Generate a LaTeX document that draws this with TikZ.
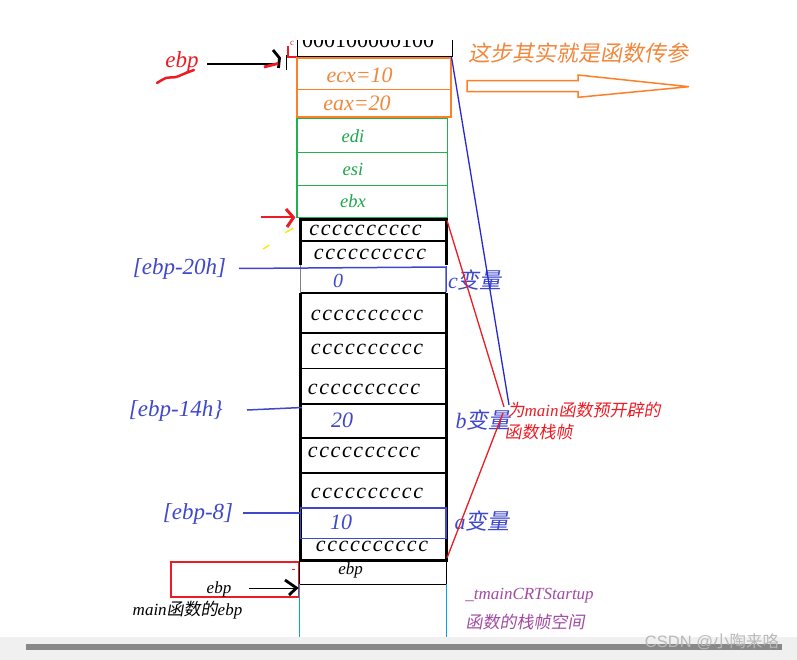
\documentclass[tikz,border=0pt]{standalone}
\usepackage{fontspec}
\setmainfont{Liberation Serif}
\newfontfamily\cjk{Noto Sans CJK SC}[FakeSlant=0.18]
\newfontfamily\wmcjk{Noto Sans CJK SC}
\newfontfamily\wmsans{Liberation Sans}
\usetikzlibrary{arrows.meta}
\definecolor{pOrange}{RGB}{255,127,39}
\definecolor{pOrangeT}{RGB}{242,135,60}
\definecolor{pGreen}{RGB}{34,177,76}
\definecolor{pGreenT}{RGB}{30,165,75}
\definecolor{pBlue}{RGB}{63,72,204}
\definecolor{pBlueL}{RGB}{40,40,210}
\definecolor{pRed}{RGB}{237,28,36}
\definecolor{pPurple}{RGB}{163,73,164}
\definecolor{pCyan}{RGB}{0,162,232}
\definecolor{pYellow}{RGB}{255,230,0}
\definecolor{bandGray}{RGB}{240,240,240}
\definecolor{barGray}{RGB}{136,136,136}
\definecolor{wmGray}{RGB}{185,185,185}
\newcommand\zh[1]{{\cjk #1}}
\newcommand\fs[1]{\fontsize{#1}{#1}\selectfont}
\newcommand\cten{c\kern1.6pt c\kern1.6pt c\kern1.6pt c\kern1.6pt c\kern1.6pt c\kern1.6pt c\kern1.6pt c\kern1.6pt c\kern1.6pt c}
\begin{document}
\begin{tikzpicture}[x=1pt,y=-1pt,
  every node/.style={inner sep=0pt, outer sep=0pt},
  ctxt/.style={font=\fs{22}\itshape, text=black},
  otxt/.style={font=\fs{22}\itshape, text=pOrangeT},
  gtxt/.style={font=\fs{18.5}\itshape, text=pGreenT},
  btxt/.style={font=\fs{22}\itshape, text=pBlue},
  rtxt/.style={font=\fs{17}\itshape, text=pRed},
  ptxt/.style={font=\fs{17}\itshape, text=pPurple},
  ktxt/.style={font=\fs{17}\itshape, text=black},
  obox/.style={draw=pOrange, line width=1.9pt},
  gbox/.style={draw=pGreen, line width=1.5pt},
  divline/.style={draw=black, line width=1.6pt},
  frame/.style={draw=black, line width=3pt},
  bline/.style={draw=pBlue, line width=1.5pt},
  longline/.style={line width=1.3pt}
]
\useasboundingbox (0,0) rectangle (797,660);
\fill[white] (0,0) rectangle (797,660);

% ---------- top (clipped) address box ----------
\begin{scope}
\clip (0,41) rectangle (797,660);
\draw[black, line width=1.5pt] (297.3,20) rectangle (452.7,56.7);
\node[anchor=base, font=\fs{22}] (addr) at (368,48) {000100000100};
\node[font=\fs{9}, text=pRed] (redc) at (292,43) {c};
\end{scope}
\draw[pRed, line width=1.3pt] (288,46) -- (288,57) -- (297,57);
\draw[black, line width=1.3pt] (286.5,55) -- (286.5,70);

% ---------- top-left ebp ----------
\node[font=\fs{23}\itshape, text=pRed] (ebpTop) at (182,62) {ebp};
\draw[pRed, line width=2.5pt, line cap=round] plot[smooth] coordinates {(157,83) (166,78) (176,77) (186,73) (194,70)};
\coordinate (a1s) at (207,64);
\coordinate (a1e) at (278,64);
\draw[black, line width=1.5pt] (a1s) -- (a1e);
\draw[black, line width=2.8pt] (273,50) -- (279.5,58) -- (278.5,68);
\draw[pRed, line width=2.8pt] (264,67) -- (278,63.5);

% ---------- orange boxes ----------
\draw[obox] (297.3,58) rectangle (451,89.5);
\draw[obox] (297.3,89.5) rectangle (451,117);
\node[otxt] (ecx) at (359.6,75) {ecx=10};
\node[otxt] (eax) at (357,103) {eax=20};

% ---------- green boxes ----------
\draw[gbox] (297,118.3) rectangle (447.7,152.3);
\draw[gbox] (297,152.3) rectangle (447.7,185.7);
\draw[gbox] (297,185.7) rectangle (447.7,217.3);
\node[gtxt] (edi) at (353,136) {edi};
\node[gtxt] (esi) at (353,169) {esi};
\node[gtxt] (ebx) at (353,201.5) {ebx};

% ---------- main frame ----------
\foreach \yy in {241,293,333,368.5,404,438,473,507.5}
  \draw[divline] (300.5,\yy) -- (446,\yy);
\draw[frame] (300.5,219.5) -- (446,219.5);
\draw[frame] (300.5,218) -- (300.5,265);
\draw[frame] (446,218) -- (446,265);
\draw[gray, line width=1.2pt] (300.5,265) -- (300.5,293);
\draw[frame] (300.5,293) -- (300.5,562);
\draw[frame] (446,293) -- (446,562);
\draw[frame] (299,560.5) -- (447.5,560.5);

% ebp box below
\draw[black, line width=1.5pt] (299.5,561) -- (299.5,584.3) -- (446.5,584.3) -- (446.5,561);
\node[ktxt] (ebpBox) at (350.7,570) {ebp};
% cyan continuation
\draw[pCyan, line width=1.3pt] (299.5,584.3) -- (299.5,637);
\draw[pCyan, line width=1.3pt] (446.5,584.3) -- (446.5,637);

% c-strings
\node[ctxt] (r1) at (365.5,230.5) {\cten};
\node[ctxt] (r2) at (370,254.5) {\cten};
\node[ctxt] (r4) at (367,315.5) {\cten};
\node[ctxt] (r5) at (367,349.5) {\cten};
\node[ctxt] (r6) at (364,389.5) {\cten};
\node[ctxt] (r8) at (364,452) {\cten};
\node[ctxt] (r9) at (367,493.5) {\cten};
\node[ctxt] (r11) at (372,546.5) {\cten};

% variable values
\node[font=\fs{20}\itshape, text=pBlue] (v0) at (338,280.5) {0};
\node[btxt] (v10) at (341,522.5) {10};
\node[btxt] (v20) at (342,420) {20};

% ---------- blue address labels ----------
\node[font=\fs{23}\itshape, text=pBlue] (l20) at (179.5,268.5) {[ebp-20h]};
\node[font=\fs{23}\itshape, text=pBlue] (l14) at (175.7,410.5) {[ebp-14h\}};
\node[font=\fs{23}\itshape, text=pBlue] (l8) at (198,513.5) {[ebp-8]};
\coordinate (l20s) at (239,268.5);
\coordinate (l20e) at (446,267);
\coordinate (l20f) at (446,292);
\draw[bline] (l20s) -- (l20e) -- (l20f);
\coordinate (l14s) at (247,410);
\coordinate (l14e) at (302,407.5);
\draw[bline] (l14s) -- (l14e);
\coordinate (l8s) at (243,513);
\coordinate (l8e) at (301,513);
\draw[bline] (l8s) -- (l8e);
\draw[bline, line width=1.8pt] (300.5,508) rectangle (446,538.5);

% variable names
\node[btxt] (cvar) at (475,280) {c\zh{变量}};
\node[btxt] (bvar) at (483,420) {b\zh{变量}};
\node[btxt] (avar) at (482,521) {a\zh{变量}};

% ---------- red / blue long lines ----------
\coordinate (topR) at (451.5,57);
\coordinate (frTop) at (447,220.5);
\coordinate (frBot) at (447,558);
\coordinate (mA) at (509,405);
\coordinate (mB) at (504,407);
\coordinate (mC) at (503,413);
\draw[pBlueL, longline] (topR) -- (mA);
\draw[pRed, longline] (frTop) -- (mB);
\draw[pRed, longline] (frBot) -- (mC);
\node[rtxt] (frame1) at (584,410.5) {\zh{为}main\zh{函数预开辟的}};
\node[rtxt] (frame2) at (538.5,432) {\zh{函数栈帧}};

% ---------- red arrow to frame ----------
\coordinate (ra1) at (261,217);
\coordinate (ra2) at (292,217);
\draw[pRed, line width=1.8pt] (ra1) -- (ra2);
\draw[pRed, line width=3pt] (286,209) -- (293.5,217.5) -- (287,227);
\draw[pYellow, line width=1.4pt] (285,232.7) -- (293.3,228.3);
\draw[pYellow, line width=1.4pt] (263.3,249) -- (269.3,245);

% ---------- top right annotation ----------
\node[font=\fs{22}, text=pOrangeT] (tip) at (578,53) {\zh{这步其实就是函数传参}};
\draw[pOrange, line width=1.5pt] (467,80.7) -- (578,80.7) -- (578,75) -- (689,86.7) -- (578,97.3) -- (578,91.7) -- (467,91.7) -- cycle;

% ---------- bottom-left main ebp ----------
\draw[pRed, line width=1.5pt] (171,562) rectangle (298.5,597);
\draw[pRed, line width=1.3pt] (292,569.5) -- (295,569.5);
\node[ktxt] (ebpMain) at (219,589) {ebp};
\coordinate (ba1) at (249,588.5);
\coordinate (ba2) at (296,588.5);
\draw[black, line width=1.6pt] (ba1) -- (ba2);
\draw[black, line width=2.8pt] (285,580) -- (296.5,588) -- (289,595);
\node[ktxt] (mainEbp) at (187.5,610.5) {main\zh{函数的}ebp};

% ---------- purple labels ----------
\node[ptxt] (crt1) at (529.5,596) {\_tmainCRTStartup};
\node[ptxt] (crt2) at (525,622.5) {\zh{函数的栈帧空间}};

% ---------- bottom band ----------
\fill[bandGray] (0,637) rectangle (797,660);
\fill[barGray] (26,643.5) rectangle (782,650);
\node[font=\fs{16.5}, text=wmGray] (wm) at (712,642) {\wmsans CSDN @{\wmcjk 小陶来咯}};
\end{tikzpicture}
\end{document}
